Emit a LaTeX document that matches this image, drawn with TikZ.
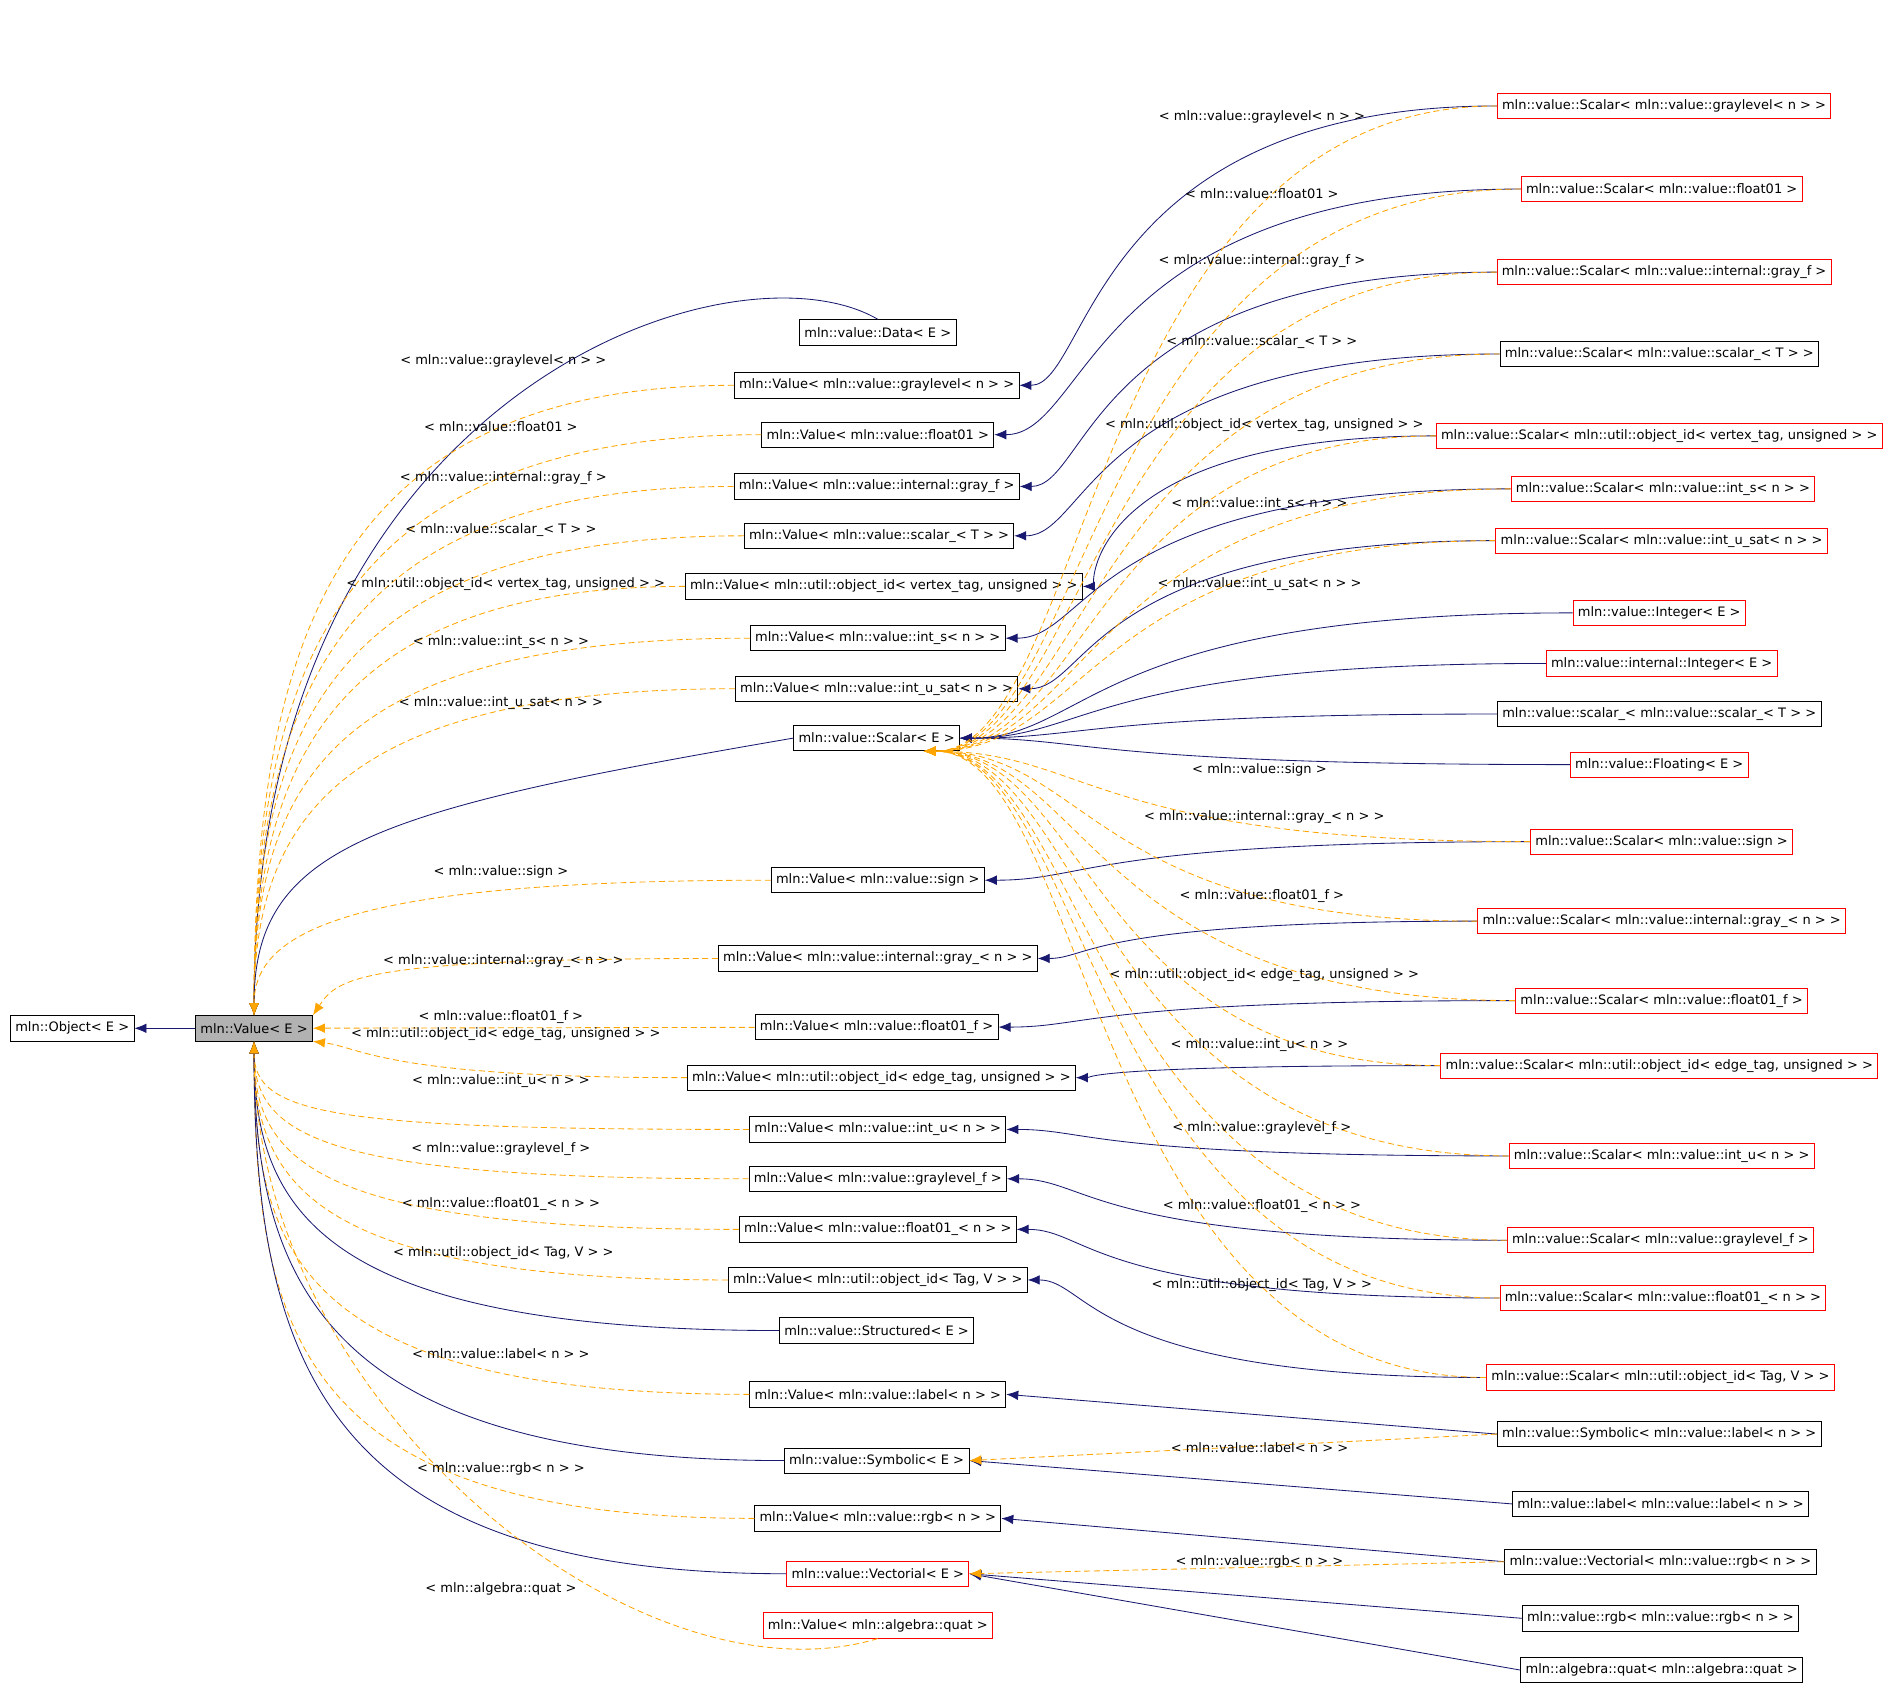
\documentclass[tikz,border=0pt]{standalone}
\usepackage{fontspec}
\setmainfont{DejaVu Sans}
\usetikzlibrary{arrows.meta}
\definecolor{navy}{HTML}{191970}
\definecolor{tmplorange}{HTML}{FFA500}
\tikzset{
  cls/.style={draw=black, line width=0.7pt, fill=white, minimum height=21pt, inner xsep=4pt, inner ysep=0pt, font=\fontsize{10.8}{12}\selectfont},
  redcls/.style={cls, draw=red},
  inh/.style={draw=navy, line width=0.7pt, -{Latex[length=10pt,width=8pt]}},
  tmpl/.style={draw=tmplorange, line width=0.7pt, dashed, dash pattern=on 5pt off 3pt, -{Latex[length=10pt,width=8pt]}},
  lbl/.style={inner sep=0pt, font=\fontsize{10.8}{12}\selectfont},
}
\begin{document}
\begin{tikzpicture}[x=1pt, y=-1pt]
\useasboundingbox (0,0) rectangle (1568,1416);
\coordinate (bend) at (905,0);

% left
\node[cls] (obj) at (60,854) {mln::Object< E >};
\node[cls, fill=black!30] (val) at (211,854) {mln::Value< E >};

% middle column
\node[cls] (data) at (729,276) {mln::value::Data< E >};
\node[cls] (vg) at (728,320) {mln::Value< mln::value::graylevel< n > >};
\node[cls] (vfo) at (729,361) {mln::Value< mln::value::float01 >};
\node[cls] (vigf) at (728,404) {mln::Value< mln::value::internal::gray\_f >};
\node[cls] (vsc) at (730,445) {mln::Value< mln::value::scalar\_< T > >};
\node[cls] (void) at (734,487) {mln::Value< mln::util::object\_id< vertex\_tag, unsigned > >};
\node[cls] (vis) at (729,530) {mln::Value< mln::value::int\_s< n > >};
\node[cls] (vius) at (728,572) {mln::Value< mln::value::int\_u\_sat< n > >};
\node[cls] (scalar) at (728,613) {mln::value::Scalar< E >};
\node[cls] (vsign) at (729,731) {mln::Value< mln::value::sign >};
\node[cls] (vig) at (729,796) {mln::Value< mln::value::internal::gray\_< n > >};
\node[cls] (vfof) at (728,853) {mln::Value< mln::value::float01\_f >};
\node[cls] (voide) at (732,895) {mln::Value< mln::util::object\_id< edge\_tag, unsigned > >};
\node[cls] (viu) at (729,938) {mln::Value< mln::value::int\_u< n > >};
\node[cls] (vgf) at (729,979) {mln::Value< mln::value::graylevel\_f >};
\node[cls] (vfon) at (729,1021) {mln::Value< mln::value::float01\_< n > >};
\node[cls] (vtv) at (729,1063) {mln::Value< mln::util::object\_id< Tag, V > >};
\node[cls] (struct) at (728,1105) {mln::value::Structured< E >};
\node[cls] (vlab) at (729,1158) {mln::Value< mln::value::label< n > >};
\node[cls] (symb) at (728,1213) {mln::value::Symbolic< E >};
\node[cls] (vrgb) at (729,1261) {mln::Value< mln::value::rgb< n > >};
\node[redcls] (vect) at (729,1307) {mln::value::Vectorial< E >};
\node[redcls] (vquat) at (729,1350) {mln::Value< mln::algebra::quat >};

% right column
\node[redcls] (sg) at (1382,88) {mln::value::Scalar< mln::value::graylevel< n > >};
\node[redcls] (sfo) at (1380,157) {mln::value::Scalar< mln::value::float01 >};
\node[redcls] (sigf) at (1382,226) {mln::value::Scalar< mln::value::internal::gray\_f >};
\node[cls] (ssc) at (1378,294) {mln::value::Scalar< mln::value::scalar\_< T > >};
\node[redcls] (soid) at (1378,362) {mln::value::Scalar< mln::util::object\_id< vertex\_tag, unsigned > >};
\node[redcls] (sis) at (1381,406) {mln::value::Scalar< mln::value::int\_s< n > >};
\node[redcls] (sius) at (1380,449) {mln::value::Scalar< mln::value::int\_u\_sat< n > >};
\node[redcls] (int) at (1378,509) {mln::value::Integer< E >};
\node[redcls] (iint) at (1380,551) {mln::value::internal::Integer< E >};
\node[cls] (scsc) at (1378,593) {mln::value::scalar\_< mln::value::scalar\_< T > >};
\node[redcls] (flt) at (1378,635) {mln::value::Floating< E >};
\node[redcls] (ssign) at (1380,699) {mln::value::Scalar< mln::value::sign >};
\node[redcls] (sig) at (1380,765) {mln::value::Scalar< mln::value::internal::gray\_< n > >};
\node[redcls] (sfof) at (1380,831) {mln::value::Scalar< mln::value::float01\_f >};
\node[redcls] (soide) at (1378,885) {mln::value::Scalar< mln::util::object\_id< edge\_tag, unsigned > >};
\node[redcls] (siu) at (1380,960) {mln::value::Scalar< mln::value::int\_u< n > >};
\node[redcls] (sgf) at (1379,1030) {mln::value::Scalar< mln::value::graylevel\_f >};
\node[redcls] (sfon) at (1381,1078) {mln::value::Scalar< mln::value::float01\_< n > >};
\node[redcls] (stv) at (1379,1144) {mln::value::Scalar< mln::util::object\_id< Tag, V > >};
\node[cls] (symlab) at (1378,1191) {mln::value::Symbolic< mln::value::label< n > >};
\node[cls] (lablab) at (1379,1249) {mln::value::label< mln::value::label< n > >};
\node[cls] (vecrgb) at (1379,1297) {mln::value::Vectorial< mln::value::rgb< n > >};
\node[cls] (rgbrgb) at (1379,1344) {mln::value::rgb< mln::value::rgb< n > >};
\node[cls] (quatquat) at (1380,1387) {mln::algebra::quat< mln::algebra::quat >};

% left edges
\draw[inh] (val) -- (obj);
\draw[inh] (data.north) .. controls +(-120,-70) and +(0,-520) .. (val.north);
\draw[tmpl] (vg.west) .. controls +(-330,0) and +(0,-310) .. (val.north);
\draw[tmpl] (vfo.west) .. controls +(-350,0) and +(0,-290) .. (val.north);
\draw[tmpl] (vigf.west) .. controls +(-330,0) and +(0,-260) .. (val.north);
\draw[tmpl] (vsc.west) .. controls +(-340,0) and +(0,-240) .. (val.north);
\draw[tmpl] (void.west) .. controls +(-290,0) and +(0,-210) .. (val.north);
\draw[tmpl] (vis.west) .. controls +(-350,0) and +(0,-190) .. (val.north);
\draw[tmpl] (vius.west) .. controls +(-330,0) and +(0,-160) .. (val.north);
\draw[inh] (scalar.west) .. controls +(-350,60) and +(0,-140) .. (val.north);
\draw[tmpl] (vsign.west) .. controls +(-350,0) and +(0,-70) .. (val.north);
\draw[tmpl] (vig.west) .. controls +(-300,0) and +(20,-30) .. (val.north east);
\draw[tmpl] (vfof) -- (val);
\draw[tmpl] (voide.west) .. controls +(-250,0) and +(40,5) .. (val.south east);
\draw[tmpl] (viu.west) .. controls +(-350,0) and +(0,60) .. (val.south);
\draw[tmpl] (vgf.west) .. controls +(-350,0) and +(0,80) .. (val.south);
\draw[tmpl] (vfon.west) .. controls +(-350,0) and +(0,100) .. (val.south);
\draw[tmpl] (vtv.west) .. controls +(-340,0) and +(0,120) .. (val.south);
\draw[inh] (struct.west) .. controls +(-380,0) and +(0,140) .. (val.south);
\draw[tmpl] (vlab.west) .. controls +(-380,0) and +(0,170) .. (val.south);
\draw[inh] (symb.west) .. controls +(-380,0) and +(0,200) .. (val.south);
\draw[tmpl] (vrgb.west) .. controls +(-380,0) and +(0,240) .. (val.south);
\draw[inh] (vect.west) .. controls +(-380,0) and +(0,270) .. (val.south);
\draw[tmpl] (vquat.south) .. controls +(-200,60) and +(0,300) .. (val.south);

\node[lbl] (lvg) at (418,300) {< mln::value::graylevel< n > >};
\node[lbl] (lvfo) at (416,354) {< mln::value::float01 >};
\node[lbl] (lvigf) at (418,397) {< mln::value::internal::gray\_f >};
\node[lbl] (lvsc) at (416,440) {< mln::value::scalar\_< T > >};
\node[lbl] (lvoid) at (420,485) {< mln::util::object\_id< vertex\_tag, unsigned > >};
\node[lbl] (lvis) at (416,533) {< mln::value::int\_s< n > >};
\node[lbl] (lvius) at (416,584) {< mln::value::int\_u\_sat< n > >};
\node[lbl] (lvsign) at (416,724) {< mln::value::sign >};
\node[lbl] (lvig) at (418,798) {< mln::value::internal::gray\_< n > >};
\node[lbl] (lvfof) at (416,845) {< mln::value::float01\_f >};
\node[lbl] (lvoide) at (420,859) {< mln::util::object\_id< edge\_tag, unsigned > >};
\node[lbl] (lviu) at (416,898) {< mln::value::int\_u< n > >};
\node[lbl] (lvgf) at (416,954) {< mln::value::graylevel\_f >};
\node[lbl] (lvfon) at (416,1000) {< mln::value::float01\_< n > >};
\node[lbl] (lvtv) at (418,1041) {< mln::util::object\_id< Tag, V > >};
\node[lbl] (lvlab) at (416,1124) {< mln::value::label< n > >};
\node[lbl] (lvrgb) at (416,1220) {< mln::value::rgb< n > >};
\node[lbl] (lvquat) at (416,1320) {< mln::algebra::quat >};

% right solid edges
\foreach \r/\v in {sg/vg, sfo/vfo, sigf/vigf, ssc/vsc, soid/void, sis/vis, sius/vius,
    ssign/vsign, sig/vig, sfof/vfof, soide/voide, siu/viu, sgf/vgf, sfon/vfon, stv/vtv}
  \draw[inh] (\r.west) .. controls (\r.west -| bend) and (\v.east -| bend) .. (\v.east);
\foreach \r/\v in {symlab/vlab, vecrgb/vrgb, lablab/symb, rgbrgb/vect, quatquat/vect}
  \draw[inh] (\r.west) -- (\v.east);
\foreach \r in {int, iint, scsc, flt}
  \draw[inh] (\r.west) .. controls (\r.west -| bend) and (scalar.east -| bend) .. (scalar.east);

% right dashed edges
\foreach \r in {sg, sfo, sigf, ssc, soid, sis, sius, ssign, sig, sfof, soide, siu, sgf, sfon, stv}
  \draw[tmpl] (\r.west) .. controls (\r.west -| bend) and (scalar.south -| bend) .. ([xshift=-30pt]scalar.south east);
\draw[tmpl] (symlab.west) -- (symb.east);
\draw[tmpl] (vecrgb.west) -- (vect.east);

\node[lbl] (lsg) at (1048,97) {< mln::value::graylevel< n > >};
\node[lbl] (lsfo) at (1048,161) {< mln::value::float01 >};
\node[lbl] (lsigf) at (1048,217) {< mln::value::internal::gray\_f >};
\node[lbl] (lssc) at (1048,284) {< mln::value::scalar\_< T > >};
\node[lbl] (lsoid) at (1050,353) {< mln::util::object\_id< vertex\_tag, unsigned > >};
\node[lbl] (lsis) at (1046,419) {< mln::value::int\_s< n > >};
\node[lbl] (lsius) at (1046,485) {< mln::value::int\_u\_sat< n > >};
\node[lbl] (lssign) at (1046,639) {< mln::value::sign >};
\node[lbl] (lsig) at (1050,679) {< mln::value::internal::gray\_< n > >};
\node[lbl] (lsfof) at (1048,744) {< mln::value::float01\_f >};
\node[lbl] (lsoide) at (1050,810) {< mln::util::object\_id< edge\_tag, unsigned > >};
\node[lbl] (lsiu) at (1046,868) {< mln::value::int\_u< n > >};
\node[lbl] (lsgf) at (1048,937) {< mln::value::graylevel\_f >};
\node[lbl] (lsfon) at (1048,1002) {< mln::value::float01\_< n > >};
\node[lbl] (lstv) at (1048,1067) {< mln::util::object\_id< Tag, V > >};
\node[lbl] (lsymlab) at (1046,1202) {< mln::value::label< n > >};
\node[lbl] (lvecrgb) at (1046,1297) {< mln::value::rgb< n > >};
\end{tikzpicture}
\end{document}
